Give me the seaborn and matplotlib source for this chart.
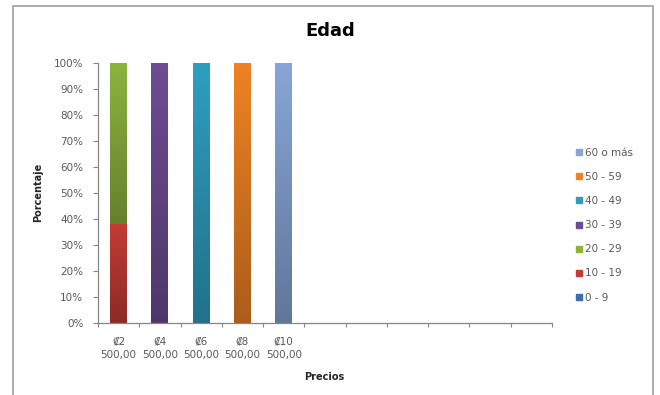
import numpy as np
import pandas as pd
import matplotlib
matplotlib.use("Agg")
import matplotlib.pyplot as plt
import matplotlib.colors as mcolors
from matplotlib.patches import Rectangle
from matplotlib.lines import Line2D
import seaborn as sns

# Price categories (first five carry data, the axis has eleven slots)
precios = ["₡2\n500,00", "₡4\n500,00", "₡6\n500,00", "₡8\n500,00", "₡10\n500,00"]
n_slots = 11

# Age groups and their share (%) for each price
grupos = ["0 - 9", "10 - 19", "20 - 29", "30 - 39", "40 - 49", "50 - 59", "60 o más"]
edad_0_9 = [0, 0, 0, 0, 0]
edad_10_19 = [38, 0, 0, 0, 0]
edad_20_29 = [62, 0, 0, 0, 0]
edad_30_39 = [0, 100, 0, 0, 0]
edad_40_49 = [0, 0, 100, 0, 0]
edad_50_59 = [0, 0, 0, 100, 0]
edad_60_mas = [0, 0, 0, 0, 100]
series = [edad_0_9, edad_10_19, edad_20_29, edad_30_39, edad_40_49, edad_50_59, edad_60_mas]

colores = ["#3A6EB0", "#C23C35", "#8DB33F", "#6E4C93", "#2E9EC0", "#EE8224", "#87A5D6"]

y_ticks = list(range(0, 101, 10))

sns.set_theme(style="white")
plt.rcParams["font.family"] = ["DejaVu Sans"]

fig = plt.figure(figsize=(6.6, 3.95), dpi=100)
ax = fig.add_axes([0.1485, 0.1823, 0.6879, 0.6582])

rows = []
for g, vals in zip(grupos, series):
    for i, v in enumerate(vals):
        rows.append({"pos": i, "grupo": g, "pct": v})
df = pd.DataFrame(rows)

bottom = np.zeros(len(precios))
for g, c in zip(grupos, colores):
    sub = df[df["grupo"] == g]
    sns.barplot(data=sub, x="pos", y="pct", order=list(range(n_slots)),
                color=c, saturation=1, width=0.41, bottom=bottom,
                ax=ax, errorbar=None, linewidth=0)
    bottom = bottom + sub["pct"].to_numpy()

# Vertical gradient on each bar segment: lighter at the top, darker below
for p in list(ax.patches):
    h = p.get_height()
    if h <= 0:
        continue
    top = np.array(mcolors.to_rgb(p.get_facecolor()))
    bot = top * 0.72
    t = np.linspace(0, 1, 64)[:, None]
    grad = (top[None, :] * (1 - t) + bot[None, :] * t)[:, None, :]
    x0, y0, w = p.get_x(), p.get_y(), p.get_width()
    im = ax.imshow(grad, extent=[x0, x0 + w, y0, y0 + h], origin="upper",
                   aspect="auto", zorder=p.get_zorder() + 0.1, interpolation="bilinear")
    im.set_clip_path(p)

ax.set_xlim(-0.5, n_slots - 0.5)
ax.set_ylim(0, 100)
ax.set_aspect("auto")

ax.set_yticks(y_ticks)
ax.set_yticklabels([f"{v}%" for v in y_ticks])
ax.set_xticks(range(n_slots))
ax.set_xticklabels(precios + [""] * (n_slots - len(precios)))
ax.set_xticks(np.arange(-0.5, n_slots, 1.0), minor=True)

ax.tick_params(axis="x", which="major", length=0, pad=10, labelsize=7.5, labelcolor="#595959")
ax.tick_params(axis="x", which="minor", length=3, width=0.8, color="#868686", direction="out", bottom=True)
ax.tick_params(axis="y", length=3.6, width=0.8, color="#868686", direction="out", left=True,
               labelsize=7.5, labelcolor="#595959", pad=7)
for lbl in ax.get_xticklabels():
    lbl.set_linespacing(1.35)

sns.despine(ax=ax)
for s in ("left", "bottom"):
    ax.spines[s].set_color("#868686")
    ax.spines[s].set_linewidth(0.9)
ax.set_xlabel("")
ax.set_ylabel("")

fig.text(0.5, 0.922, "Edad", ha="center", va="center", fontsize=13, fontweight="bold", color="#000000")
fig.text(0.058, 0.514, "Porcentaje", ha="center", va="center", rotation=90,
         fontsize=7, fontweight="bold", color="#262626")
fig.text(0.492, 0.046, "Precios", ha="center", va="center",
         fontsize=7, fontweight="bold", color="#262626")

handles = [Line2D([], [], marker="s", linestyle="none", markersize=4.5,
                  markerfacecolor=c, markeredgecolor=c) for c in colores]
leg = fig.legend(handles[::-1], grupos[::-1], loc="center left",
                 bbox_to_anchor=(0.865, 0.43), frameon=False, fontsize=7.5,
                 labelspacing=1.36, handlelength=0.7, handletextpad=0.3,
                 borderaxespad=0)
for t in leg.get_texts():
    t.set_color("#595959")

fig.add_artist(Rectangle((0.0197, -0.05), 0.9697, 1.035, transform=fig.transFigure,
                         fill=False, edgecolor="#A6A6A6", linewidth=1.3, clip_on=False))

fig.savefig("out.png", dpi=100)
